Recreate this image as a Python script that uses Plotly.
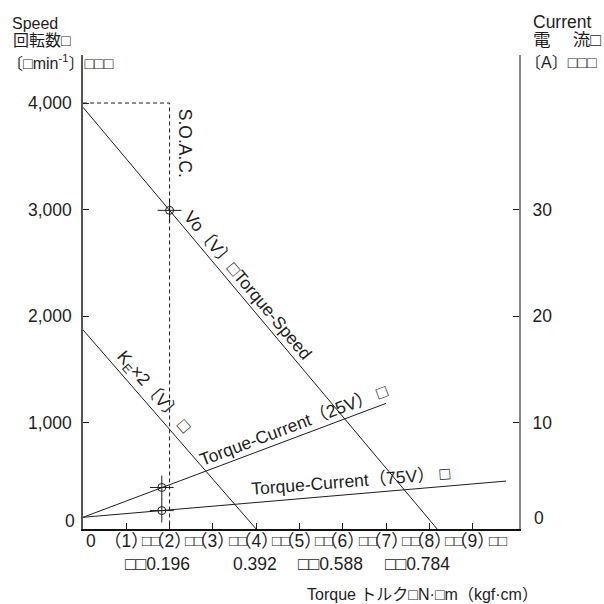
import plotly.graph_objects as go

# Torque in kgf·cm, speed in min^-1, current in A
vo_torque = [0.0, 8.18]
vo_speed = [3960, 0]
ke_torque = [0.0, 4.0]
ke_speed = [1870, 0]
soac_torque = [0.0, 2.0, 2.0]
soac_speed = [4000, 4000, 0]
tc25_torque = [0.0, 7.0]
tc25_current = [1.1, 11.8]
tc75_torque = [0.0, 9.77]
tc75_current = [1.1, 4.5]
rated_torque = [2.0]
rated_speed = [2992]
op_torque = [1.82, 1.82]
op_current = [3.9, 1.73]

speed_ticks = [1000, 2000, 3000, 4000]
speed_ticktext = ["1,000", "2,000", "3,000", "4,000"]
current_ticks = [10, 20, 30]
torque_ticks = [1, 2, 3, 4, 5, 6, 7, 8, 9]
nm_ticks = [2, 4, 6, 8]
nm_labels = ["□□0.196", "0.392", "□□0.588", "□□0.784"]

FONT = "Liberation Sans, Arial, Noto Sans CJK JP, sans-serif"
INK = "#1e1e1e"
FS = 17.5
FT = 16

X_MAX = 10.07
Y_MAX = 4451
I_MAX = 44.51

fig = go.Figure()

line_style = dict(color=INK, width=1)
fig.add_trace(go.Scatter(x=soac_torque, y=soac_speed, mode="lines",
                         line=dict(color=INK, width=1, dash="4px,3px")))
fig.add_trace(go.Scatter(x=vo_torque, y=vo_speed, mode="lines", line=line_style))
fig.add_trace(go.Scatter(x=ke_torque, y=ke_speed, mode="lines", line=line_style))
fig.add_trace(go.Scatter(x=tc25_torque, y=tc25_current, mode="lines",
                         line=line_style, yaxis="y2"))
fig.add_trace(go.Scatter(x=tc75_torque, y=tc75_current, mode="lines",
                         line=line_style, yaxis="y2"))

# crosshair markers at the rated operating point
for sym, size in (("circle-open", 8), ("cross-thin-open", 17)):
    fig.add_trace(go.Scatter(x=rated_torque, y=rated_speed, mode="markers",
                             marker=dict(symbol=sym, size=size, color=INK,
                                         line=dict(color=INK, width=1))))
    fig.add_trace(go.Scatter(x=op_torque, y=op_current, mode="markers", yaxis="y2",
                             marker=dict(symbol=sym, size=size, color=INK,
                                         line=dict(color=INK, width=1))))

ann = []

def note(text, x, y, xref="x", yref="y", angle=0, xanchor="center",
         yanchor="middle", size=FS):
    ann.append(dict(text=text, x=x, y=y, xref=xref, yref=yref, textangle=angle,
                    xanchor=xanchor, yanchor=yanchor, showarrow=False,
                    font=dict(family=FONT, size=size, color=INK)))

# line labels
note("S.O.A.C.", 2.36, 3625, angle=90)
note("Vo〔V〕□Torque-Speed", 3.8, 2290, angle=50)
note("K<sub>E</sub>×2〔V〕 □", 1.62, 1280, angle=49)
note("Torque-Current（25V） □", 4.88, 975, angle=-20.7)
note("Torque-Current（75V） □", 6.2, 455, angle=-4.5)

# zero labels of both vertical axes
note("0", -0.014, 0.017, xref="paper", yref="paper", xanchor="right")
note("0", 1.030, 0.023, xref="paper", yref="paper", xanchor="left")

# torque tick labels (kgf·cm row and N·m row)
note("0", 0.18, -0.0253, yref="paper")
for t in torque_ticks:
    note(f"（{t}）", t, -0.0253, yref="paper")
    note("□□", t + 0.32, -0.0253, yref="paper", xanchor="left", size=15)
for t, lab in zip(nm_ticks, nm_labels):
    note(lab, t + 0.52, -0.0738, yref="paper", xanchor="right")

# axis titles
note("Speed", -0.167, 1.066, xref="paper", yref="paper", xanchor="left", size=FT)
note("回転数□", -0.165, 1.030, xref="paper", yref="paper", xanchor="left", size=FT)
note("〔□min<sup>-1</sup>〕□□□", -0.180, 0.985, xref="paper", yref="paper",
     xanchor="left", size=FT)
note("Current", 1.028, 1.070, xref="paper", yref="paper", xanchor="left", size=FS)
note("電　 流□", 1.028, 1.032, xref="paper", yref="paper", xanchor="left", size=FS)
note("〔A〕□□□", 1.010, 0.985, xref="paper", yref="paper", xanchor="left", size=FT)
note("Torque トルク□N·□m（kgf·cm）", 0.778, -0.139, xref="paper", yref="paper",
     xanchor="center", size=FT)

fig.update_layout(
    width=604, height=604,
    margin=dict(l=83, r=85, t=55, b=75),
    paper_bgcolor="white", plot_bgcolor="white",
    showlegend=False,
    font=dict(family=FONT, size=FS, color=INK),
    annotations=ann,
    xaxis=dict(range=[0, X_MAX], showgrid=False, zeroline=False,
               showline=True, linecolor="#111", linewidth=2,
               tickmode="array", tickvals=torque_ticks, ticks="inside",
               ticklen=6, tickcolor=INK, showticklabels=False),
    yaxis=dict(range=[0, Y_MAX], showgrid=False, zeroline=False,
               showline=True, linecolor="#555", linewidth=1.5,
               tickmode="array", tickvals=speed_ticks, ticktext=speed_ticktext,
               ticks="inside", ticklen=6, tickcolor=INK, ticklabelstandoff=6,
               tickfont=dict(family=FONT, size=FS, color=INK)),
    yaxis2=dict(range=[0, I_MAX], overlaying="y", side="right", showgrid=False,
                zeroline=False, showline=True, linecolor="#888", linewidth=2,
                tickmode="array", tickvals=current_ticks, ticks="inside",
                ticklen=6, tickcolor=INK, ticklabelstandoff=8,
                tickfont=dict(family=FONT, size=FS, color=INK)),
)

fig.write_html("out.html")
